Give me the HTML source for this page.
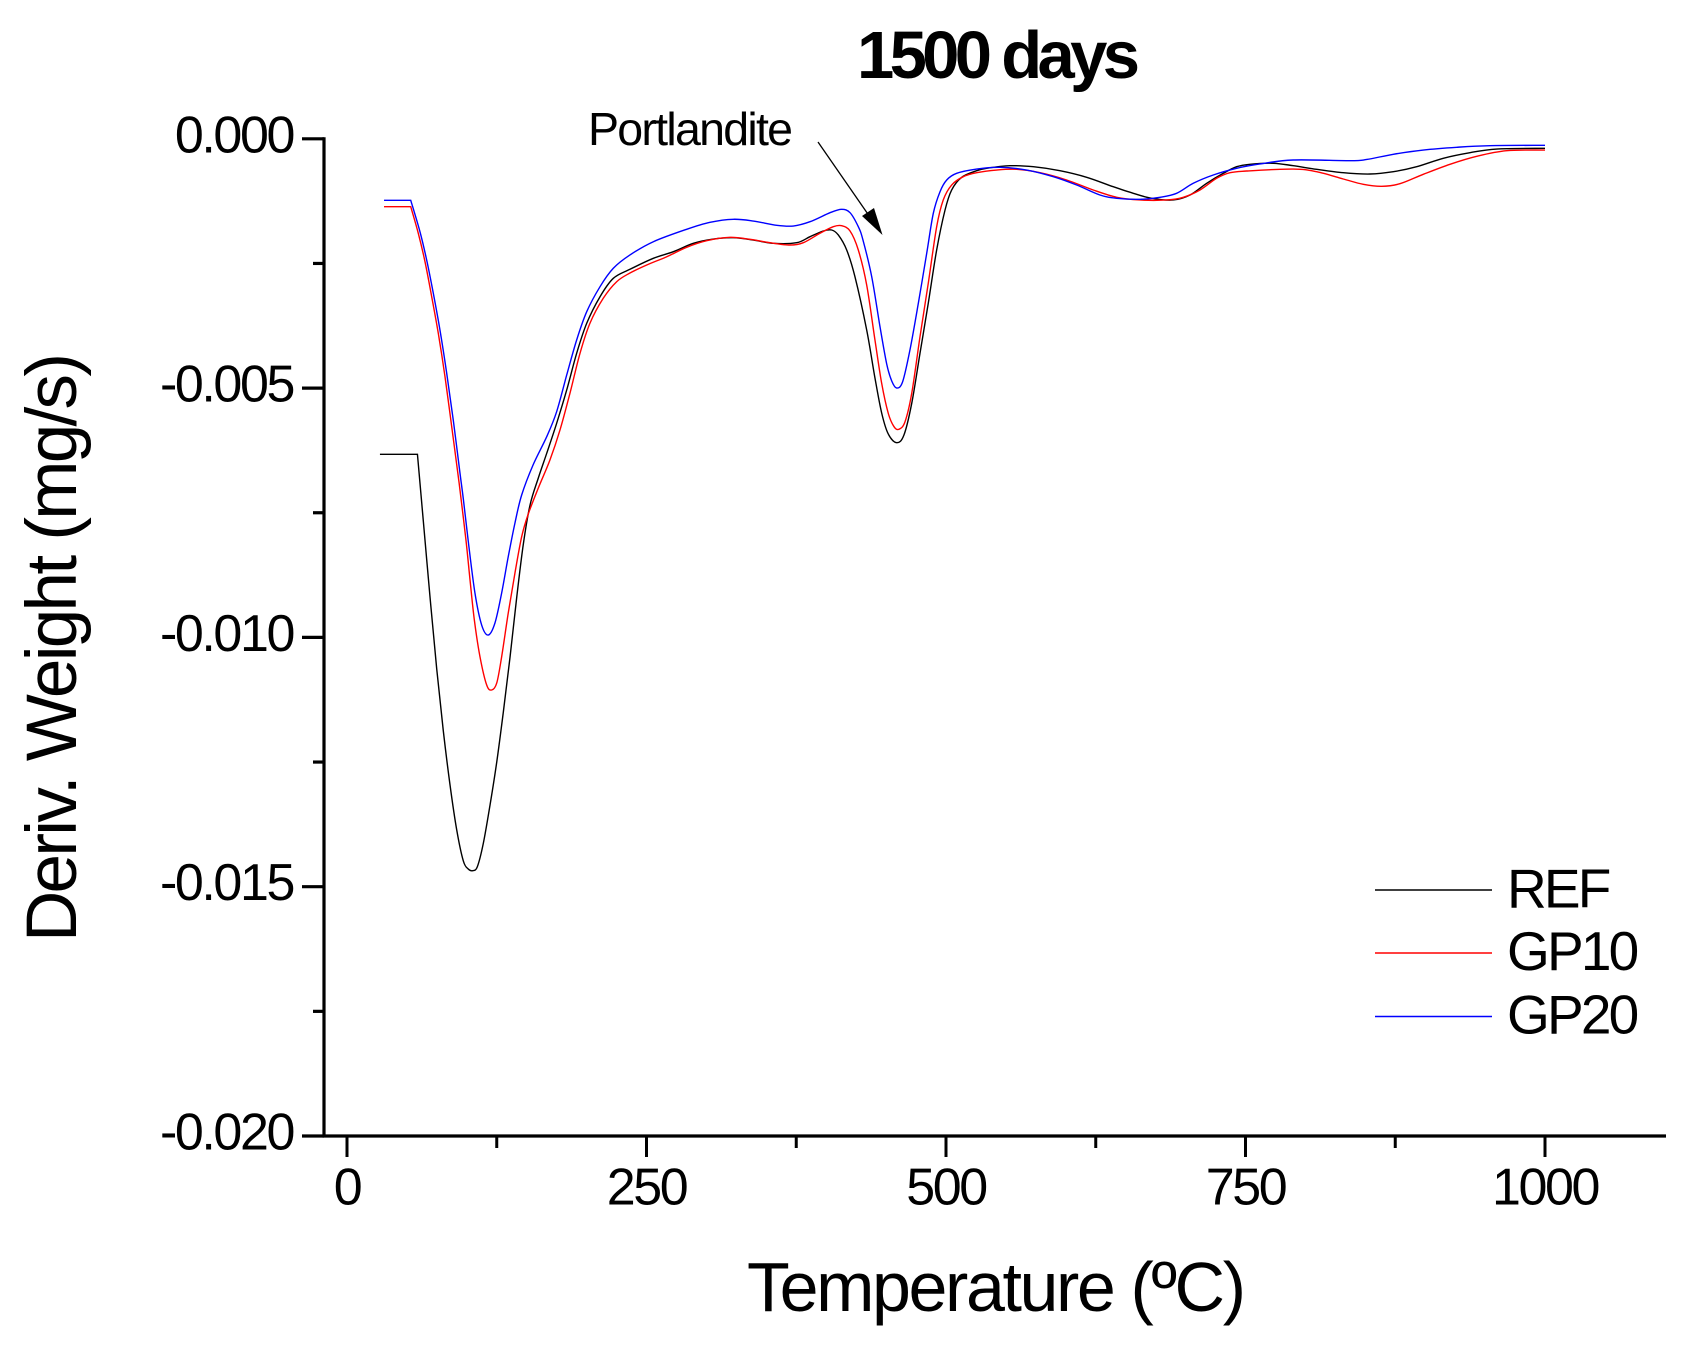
<!DOCTYPE html>
<html lang="en">
<head>
<meta charset="utf-8">
<title>1500 days DTG chart</title>
<style>
html,body{margin:0;padding:0;background:#fff;}
svg{display:block;}
text{font-family:"Liberation Sans",Arial,sans-serif;fill:#000;}
.tick{font-size:52px;letter-spacing:-2.4px;}
.leg{font-size:55px;letter-spacing:-2.8px;}
</style>
</head>
<body>
<svg id="chart" xmlns="http://www.w3.org/2000/svg" width="1697" height="1347" viewBox="0 0 1697 1347">
<rect x="0" y="0" width="1697" height="1347" fill="#fff"/>
<text x="857" y="78" font-size="67" font-weight="bold" textLength="283" lengthAdjust="spacing">1500 days</text>
<text x="747" y="1311" font-size="70" textLength="499" lengthAdjust="spacing">Temperature (ºC)</text>
<text transform="translate(76,942) rotate(-90)" font-size="71" textLength="589" lengthAdjust="spacing">Deriv. Weight (mg/s)</text>
<text x="588" y="145" font-size="46.5" textLength="205" lengthAdjust="spacing">Portlandite</text>
<line x1="818" y1="142" x2="872" y2="220" stroke="#000" stroke-width="1.3"/>
<polygon points="882.5,235 862,216 874,208" fill="#000"/>
<g id="axes"></g>
<g id="series"></g>
<g id="legend"></g>
</svg>
<script>
var xMajorTicks = [0, 250, 500, 750, 1000];
var xMinorTicks = [125, 375, 625, 875];
var xTickLabels = ["0", "250", "500", "750", "1000"];
var yMajorTicks = [0, -0.005, -0.01, -0.015, -0.02];
var yMinorTicks = [-0.0025, -0.0075, -0.0125, -0.0175];
var yTickLabels = ["0.000", "-0.005", "-0.010", "-0.015", "-0.020"];
var seriesNames = ["REF", "GP10", "GP20"];

var refTemp = [27.5,58.8,63.7,69.3,74.9,80.4,86,91.6,97.1,101.2,104.9,108.8,113.8,119.4,125,130.5,136.1,141.7,147.2,152.8,159.7,166.7,175,183.4,191.7,200.1,211.2,222.3,236.2,255.7,272.4,289.1,305.8,322.4,339.1,355.8,375.3,386.5,397.6,404.6,410.1,417.1,424,433.8,440.7,446.3,451.8,458.8,464.9,471.4,478.3,485.2,492.2,499.2,504.7,513.1,525.6,533.9,553.4,572.9,595.1,617.4,639.6,656.3,671.7,689.7,703.7,717.6,731.5,742.6,753.7,773.2,789.9,809.4,831.6,853.9,873.4,892.9,915.1,937.4,959.7,1000];
var refValues = [-0.006328,-0.006328,-0.007665,-0.00919,-0.010634,-0.011877,-0.01296,-0.013863,-0.014484,-0.014645,-0.014679,-0.014599,-0.014129,-0.013361,-0.012499,-0.011496,-0.010393,-0.00919,-0.008127,-0.007344,-0.006803,-0.006308,-0.005706,-0.005038,-0.004302,-0.0037,-0.003167,-0.002798,-0.002617,-0.002397,-0.002264,-0.002096,-0.00201,-0.001984,-0.00203,-0.002096,-0.002084,-0.001963,-0.001849,-0.001829,-0.001929,-0.00223,-0.002766,-0.003835,-0.004797,-0.005499,-0.00592,-0.006095,-0.005941,-0.005305,-0.004302,-0.003299,-0.00223,-0.001428,-0.001027,-0.000772,-0.00064,-0.000592,-0.00054,-0.00056,-0.00064,-0.000772,-0.000961,-0.001093,-0.001193,-0.001227,-0.001127,-0.000892,-0.000692,-0.00056,-0.000511,-0.000491,-0.00054,-0.000612,-0.00068,-0.000706,-0.00066,-0.00056,-0.000391,-0.000279,-0.000205,-0.000191];

var gp10Temp = [30.9,53.2,59.5,65.1,70.7,76.2,81.8,87.4,92.9,94.3,99.3,102.7,106.3,111,116.6,120.8,125,129.1,134.6,140.2,145.8,151.3,159.7,169.4,177.8,186.1,194.5,202.8,213.9,225.1,236.2,250.2,266.9,283.5,300.2,319.7,336.4,353.1,369.8,380.9,394.8,405.9,412.9,419.9,426.8,433.8,440.7,446.3,451.8,456.6,460.7,465.8,471.4,478.3,485.2,492.2,497.7,504.7,514.4,525.6,542.3,559,578.5,600.7,622.9,642.5,661.9,684.2,698.1,712,725.9,737.1,751,789.9,809.4,831.6,848.3,863.7,878.9,898.4,920.7,943,968,1000];
var gp10Values = [-0.001362,-0.001362,-0.001895,-0.002465,-0.003167,-0.003901,-0.004771,-0.005774,-0.006777,-0.007044,-0.008047,-0.008849,-0.009651,-0.010387,-0.010955,-0.011055,-0.010914,-0.010387,-0.009511,-0.008708,-0.00798,-0.007525,-0.007004,-0.006442,-0.00584,-0.005104,-0.004302,-0.0037,-0.003199,-0.002866,-0.002692,-0.002531,-0.002365,-0.002176,-0.002044,-0.001976,-0.002016,-0.002084,-0.00213,-0.002084,-0.001895,-0.001763,-0.001743,-0.001849,-0.00223,-0.002932,-0.004035,-0.004904,-0.005505,-0.005774,-0.005826,-0.005674,-0.005104,-0.003969,-0.002898,-0.001763,-0.001227,-0.000927,-0.00076,-0.00068,-0.000626,-0.000612,-0.00068,-0.000826,-0.001027,-0.001173,-0.001227,-0.001227,-0.001173,-0.001027,-0.000792,-0.00068,-0.000646,-0.000606,-0.00066,-0.000806,-0.000913,-0.000953,-0.000901,-0.000712,-0.000511,-0.000351,-0.000239,-0.000225];

var gp20Temp = [30.9,53.2,60.9,66.5,72,77.6,83.2,88.7,94.3,97.1,101.2,106.8,112.4,117.9,123.5,129.1,134.6,140.2,145.8,155.3,166.7,175,183.4,191.7,200.1,211.2,222.3,236.2,255.7,283.5,303,322.4,339.1,358.7,372.5,386.5,403.2,412.9,419.9,426.8,430.7,438,444.9,450.5,454.7,458.8,463.8,469.9,476.9,483.9,489.4,495,500.6,508.9,525.6,545.1,567.3,589.6,609.1,628.5,642.5,661.9,678.6,692.5,706.4,723.1,742.6,762.1,789.9,837.2,851.2,873.4,898.4,926.3,954.1,1000];
var gp20Values = [-0.001233,-0.001233,-0.001863,-0.002431,-0.003093,-0.003835,-0.004697,-0.00564,-0.006703,-0.007224,-0.008067,-0.00911,-0.009752,-0.009952,-0.009711,-0.009109,-0.008381,-0.007705,-0.007144,-0.006542,-0.005975,-0.005473,-0.004737,-0.004035,-0.003468,-0.002966,-0.002597,-0.00233,-0.002064,-0.001815,-0.001675,-0.001614,-0.001649,-0.001735,-0.001749,-0.001663,-0.001482,-0.001414,-0.001482,-0.001763,-0.00203,-0.002766,-0.003768,-0.004516,-0.004857,-0.004998,-0.004872,-0.004236,-0.003299,-0.002296,-0.001494,-0.001061,-0.000826,-0.000692,-0.000606,-0.000572,-0.000626,-0.00076,-0.000927,-0.001127,-0.001193,-0.001213,-0.001173,-0.001093,-0.000892,-0.000726,-0.000592,-0.000505,-0.000425,-0.000439,-0.000415,-0.00031,-0.000225,-0.00017,-0.000138,-0.00013];

var SVGNS = "http://www.w3.org/2000/svg";
function xScale(t){ return 347 + t * 1.198; }
function yScale(v){ return 138.8 - v * 49860; }
function make(tag, attrs, parent){
  var el = document.createElementNS(SVGNS, tag);
  for (var k in attrs) el.setAttribute(k, attrs[k]);
  parent.appendChild(el);
  return el;
}
function linePath(ts, vs){
  var p = ts.map(function(t, i){ return [xScale(t), yScale(vs[i])]; });
  var d = "M" + p[0][0].toFixed(2) + " " + p[0][1].toFixed(2) + "L" + p[1][0].toFixed(2) + " " + p[1][1].toFixed(2);
  for (var i = 1; i < p.length - 1; i++) {
    var p0 = i === 1 ? p[1] : p[i-1], p1 = p[i], p2 = p[i+1], p3 = p[i+2] || p2;
    var c1x = p1[0] + (p2[0]-p0[0]) / 6, c1y = p1[1] + (p2[1]-p0[1]) / 6;
    var c2x = p2[0] - (p3[0]-p1[0]) / 6, c2y = p2[1] - (p3[1]-p1[1]) / 6;
    d += "C" + c1x.toFixed(2) + " " + c1y.toFixed(2) + " " + c2x.toFixed(2) + " " + c2y.toFixed(2) + " " + p2[0].toFixed(2) + " " + p2[1].toFixed(2);
  }
  return d;
}

var axes = document.getElementById("axes");
var yAxisLine = make("line", {x1:324, y1:yScale(0)-1.5, x2:324, y2:yScale(-0.02)+1.5, stroke:"#000", "stroke-width":3.2}, axes);


var xAxisLine = make("line", {x1:322.5, y1:1136, x2:1666, y2:1136, stroke:"#000", "stroke-width":3.2}, axes);



yMajorTicks.forEach(function(v, i){
  var y = yScale(v);
  var tick = make("line", {x1:302, y1:y, x2:324, y2:y, stroke:"#000", "stroke-width":3.2}, axes);
  
  
  var label = make("text", {x:293, y:y+13.5, "text-anchor":"end", "class":"tick"}, axes);
  
  
  label.textContent = yTickLabels[i];
});
yMinorTicks.forEach(function(v){
  var y = yScale(v);
  var tick = make("line", {x1:313, y1:y, x2:324, y2:y, stroke:"#000", "stroke-width":3.2}, axes);
  
  
});
xMajorTicks.forEach(function(t, i){
  var x = xScale(t);
  var tick = make("line", {x1:x, y1:1136, x2:x, y2:1157, stroke:"#000", "stroke-width":3}, axes);
  
  
  var label = make("text", {x:x, y:1204.5, "text-anchor":"middle", "class":"tick"}, axes);
  
  
  label.textContent = xTickLabels[i];
});
xMinorTicks.forEach(function(t){
  var x = xScale(t);
  var tick = make("line", {x1:x, y1:1136, x2:x, y2:1148, stroke:"#000", "stroke-width":3}, axes);
  
  
});

var seriesGroup = document.getElementById("series");
var refLine = make("path", {d:linePath(refTemp, refValues), fill:"none", stroke:"#000", "stroke-width":1.4}, seriesGroup);


var gp10Line = make("path", {d:linePath(gp10Temp, gp10Values), fill:"none", stroke:"#f00", "stroke-width":1.4}, seriesGroup);


var gp20Line = make("path", {d:linePath(gp20Temp, gp20Values), fill:"none", stroke:"#00f", "stroke-width":1.4}, seriesGroup);



var legend = document.getElementById("legend");
var legendColors = ["#000", "#f00", "#00f"];
var legendLineY = [890, 953, 1016.5];
var legendTextY = [907.5, 970, 1033.5];
seriesNames.forEach(function(name, i){
  var sw = make("line", {x1:1375, y1:legendLineY[i], x2:1492, y2:legendLineY[i], stroke:legendColors[i], "stroke-width":1.4}, legend);
  
  
  var tx = make("text", {x:1507, y:legendTextY[i], "class":"leg"}, legend);
  
  
  tx.textContent = name;
});
</script>
</body>
</html>
